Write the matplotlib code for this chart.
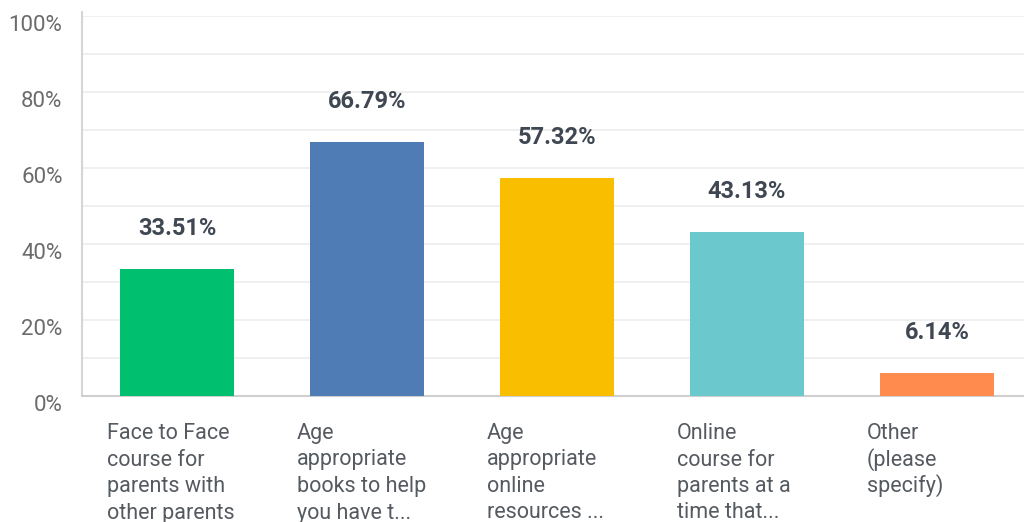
import matplotlib.pyplot as plt
from matplotlib.ticker import MultipleLocator, FixedLocator
from matplotlib.transforms import ScaledTranslation

categories = [
    "Face to Face\ncourse for\nparents with\nother parents",
    "Age\nappropriate\nbooks to help\nyou have t...",
    "Age\nappropriate\nonline\nresources ...",
    "Online\ncourse for\nparents at a\ntime that...",
    "Other\n(please\nspecify)",
]
values = [33.51, 66.79, 57.32, 43.13, 6.14]
colors = ["#00bf6f", "#507cb6", "#f9be00", "#6bc8cd", "#ff8b4f"]
y_ticks = [0, 20, 40, 60, 80, 100]

plt.rcParams["font.family"] = ["Roboto", "DejaVu Sans"]

W, H = 1024, 522
PX = 72 / 100  # points per pixel at 100 dpi
fig = plt.figure(figsize=(W / 100, H / 100), dpi=100)
left, right = 82 / W, 1032 / W
bottom, top = 1 - 396 / H, 1 - 16 / H
ax = fig.add_axes([left, bottom, right - left, top - bottom])

x = list(range(len(values)))
ax.bar(x, values, width=0.6, color=colors, zorder=3)
ax.set_xlim(-0.5, len(values) - 0.5)
ax.set_ylim(0, 100)

ax.yaxis.set_major_locator(FixedLocator(y_ticks))
ax.yaxis.set_minor_locator(MultipleLocator(10))
ax.set_yticklabels([f"{t}%" for t in y_ticks], fontsize=16, color="#6b6b6b")
ax.tick_params(axis="y", length=0, pad=14, which="both")
shift = ScaledTranslation(0, -7 / 100, fig.dpi_scale_trans)
for lbl in ax.get_yticklabels():
    lbl.set_transform(lbl.get_transform() + shift)
ax.grid(axis="y", which="both", color="#ececec", linewidth=1.2, zorder=0)
ax.set_xticks([])

for s in ["top", "right"]:
    ax.spines[s].set_visible(False)
ax.spines["left"].set_color("#d5d5d5")
ax.spines["left"].set_linewidth(1.5)
ax.spines["left"].set_bounds(0, 101)
ax.spines["bottom"].set_color("#cfcfcf")
ax.spines["bottom"].set_linewidth(1.5)

for xi, v in zip(x, values):
    ax.annotate(f"{v:.2f}%", (xi, v), xytext=(0, 29), textcoords="offset points",
                ha="center", va="center", fontsize=17, fontweight="bold",
                color="#3f4752")

# category labels: one text per line so the line pitch stays even
for xi, lab in zip(x, categories):
    for i, line in enumerate(lab.split("\n")):
        ax.annotate(line, (xi - 0.3, 0),
                    xytext=(-13 * PX, -(43 + 26.5 * i) * PX),
                    textcoords="offset points", ha="left", va="baseline",
                    fontsize=15.5, color="#555a60", annotation_clip=False)

fig.savefig("out.png", dpi=100)
